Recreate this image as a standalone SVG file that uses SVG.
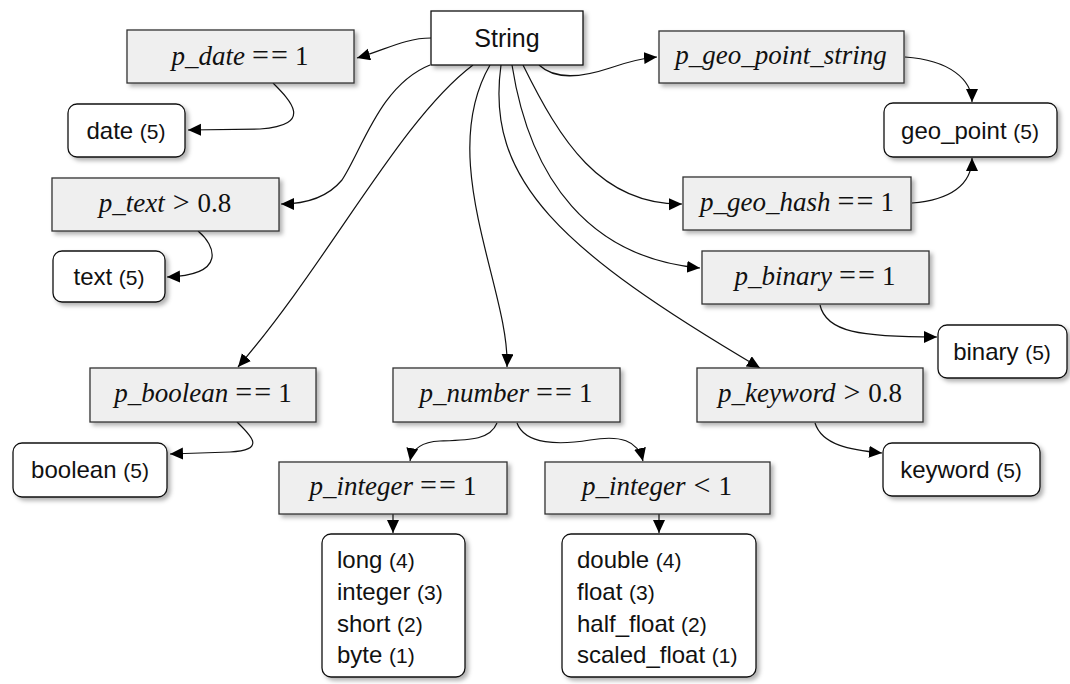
<svg xmlns="http://www.w3.org/2000/svg" width="1070" height="684" viewBox="0 0 1070 684">
<defs>
<filter id="sh" x="-10%" y="-20%" width="130%" height="150%">
<feDropShadow dx="3" dy="3" stdDeviation="2" flood-color="#000" flood-opacity="0.3"/>
</filter>
<marker id="ah" markerUnits="userSpaceOnUse" markerWidth="15" markerHeight="13" refX="13" refY="6" orient="auto">
<path d="M0,0 L13,6 L0,12 z" fill="#000"/>
</marker>
</defs>
<style>
.cond{fill:#efefef;stroke:#333;stroke-width:1.3;filter:url(#sh)}
.res{fill:#fff;stroke:#111;stroke-width:1.3;filter:url(#sh)}
.src{fill:#fff;stroke:#111;stroke-width:1.3;filter:url(#sh)}
.m{font-family:"Liberation Serif",serif;font-size:27px;fill:#111;text-anchor:middle}
.i{font-style:italic}
.q{font-size:30px}
.s{font-family:"Liberation Sans",Arial,sans-serif;font-size:24px;fill:#111}
.c{text-anchor:middle}
.n{font-size:21px}
.e{fill:none;stroke:#111;stroke-width:1.2;marker-end:url(#ah)}
</style>

<g id="connectors">
<path class="e" d="M431,38 C405,38 385,50 357,58"/>
<path class="e" d="M273,83 C290,100 315,125 260,129 L188,130"/>
<path class="e" d="M430,65 C380,85 362,150 342,180 C327,198 305,204 281,204"/>
<path class="e" d="M198,231 C215,245 228,275 167,277"/>
<path class="e" d="M473,65 C400,120 330,260 238,367"/>
<path class="e" d="M237,422 C250,435 268,450 230,452 L170,454"/>
<path class="e" d="M490,65 C435,160 510,290 507,367"/>
<path class="e" d="M501,65 C485,180 560,250 760,368"/>
<path class="e" d="M512,65 C530,180 590,258 700,268"/>
<path class="e" d="M523,65 C560,140 600,205 682,204"/>
<path class="e" d="M539,65 C555,80 580,78 610,68 C630,61 645,58 657,57"/>
<path class="e" d="M905,57 C950,60 972,80 972,102"/>
<path class="e" d="M912,203 C950,200 972,185 972,158"/>
<path class="e" d="M820,305 C826,332 860,337 937,337"/>
<path class="e" d="M815,423 C822,445 850,450 882,453"/>
<path class="e" d="M497,423 C490,440 470,440 440,441 C420,442 412,450 410,461"/>
<path class="e" d="M517,423 C525,445 560,445 590,440 C620,435 638,440 643,461"/>
<path class="e" d="M393,514 L393,533"/>
<path class="e" d="M659,514 L659,533"/>
</g>

<g id="string">
<rect class="src" x="431" y="11" width="152" height="54"/>
<text class="s c" x="507" y="47" style="font-size:25px">String</text>
</g>

<g id="p_date">
<rect class="cond" x="127" y="30" width="227" height="53"/>
<text class="m" x="240" y="65"><tspan class="i">p_date</tspan><tspan class="q" dx="7">=</tspan><tspan class="q" dx="2">=</tspan><tspan dx="7">1</tspan></text>
</g>
<g id="date">
<rect class="res" x="68" y="104" width="117" height="53" rx="9"/>
<text class="s c" x="126" y="139">date <tspan class="n">(5)</tspan></text>
</g>

<g id="p_text">
<rect class="cond" x="52" y="178" width="227" height="53"/>
<text class="m" x="165" y="212"><tspan class="i">p_text</tspan><tspan class="q" dx="8">&gt;</tspan><tspan dx="8">0.8</tspan></text>
</g>
<g id="text">
<rect class="res" x="53" y="251" width="112" height="51" rx="9"/>
<text class="s c" x="109" y="285">text <tspan class="n">(5)</tspan></text>
</g>

<g id="p_geo_point_string">
<rect class="cond" x="659" y="31" width="245" height="52"/>
<text class="m" x="781" y="64"><tspan class="i">p_geo_point_string</tspan></text>
</g>
<g id="geo_point">
<rect class="res" x="884" y="103" width="173" height="54" rx="9"/>
<text class="s c" x="970" y="139">geo_point <tspan class="n">(5)</tspan></text>
</g>

<g id="p_geo_hash">
<rect class="cond" x="683" y="177" width="228" height="53"/>
<text class="m" x="797" y="211"><tspan class="i">p_geo_hash</tspan><tspan class="q" dx="7">=</tspan><tspan class="q" dx="2">=</tspan><tspan dx="7">1</tspan></text>
</g>

<g id="p_binary">
<rect class="cond" x="702" y="251" width="227" height="53"/>
<text class="m" x="815" y="285"><tspan class="i">p_binary</tspan><tspan class="q" dx="7">=</tspan><tspan class="q" dx="2">=</tspan><tspan dx="7">1</tspan></text>
</g>
<g id="binary">
<rect class="res" x="938" y="325" width="129" height="53" rx="9"/>
<text class="s c" x="1002" y="360">binary <tspan class="n">(5)</tspan></text>
</g>

<g id="p_boolean">
<rect class="cond" x="90" y="368" width="226" height="54"/>
<text class="m" x="203" y="402"><tspan class="i">p_boolean</tspan><tspan class="q" dx="7">=</tspan><tspan class="q" dx="2">=</tspan><tspan dx="7">1</tspan></text>
</g>
<g id="boolean">
<rect class="res" x="13" y="443" width="154" height="54" rx="9"/>
<text class="s c" x="90" y="478">boolean <tspan class="n">(5)</tspan></text>
</g>

<g id="p_number">
<rect class="cond" x="393" y="368" width="227" height="54"/>
<text class="m" x="506" y="402"><tspan class="i">p_number</tspan><tspan class="q" dx="7">=</tspan><tspan class="q" dx="2">=</tspan><tspan dx="7">1</tspan></text>
</g>

<g id="p_keyword">
<rect class="cond" x="697" y="368" width="226" height="54"/>
<text class="m" x="810" y="402"><tspan class="i">p_keyword</tspan><tspan class="q" dx="8">&gt;</tspan><tspan dx="8">0.8</tspan></text>
</g>
<g id="keyword">
<rect class="res" x="883" y="443" width="157" height="53" rx="9"/>
<text class="s c" x="961" y="478">keyword <tspan class="n">(5)</tspan></text>
</g>

<g id="p_integer_eq">
<rect class="cond" x="279" y="462" width="228" height="52"/>
<text class="m" x="393" y="495"><tspan class="i">p_integer</tspan><tspan class="q" dx="7">=</tspan><tspan class="q" dx="2">=</tspan><tspan dx="7">1</tspan></text>
</g>
<g id="p_integer_lt">
<rect class="cond" x="545" y="462" width="225" height="52"/>
<text class="m" x="657" y="495"><tspan class="i">p_integer</tspan><tspan class="q" dx="8">&lt;</tspan><tspan dx="8">1</tspan></text>
</g>

<g id="integers">
<rect class="res" x="322" y="534" width="143" height="143" rx="9"/>
<text class="s" x="337" y="568">long <tspan class="n">(4)</tspan></text>
<text class="s" x="337" y="600">integer <tspan class="n">(3)</tspan></text>
<text class="s" x="337" y="632">short <tspan class="n">(2)</tspan></text>
<text class="s" x="337" y="663">byte <tspan class="n">(1)</tspan></text>
</g>
<g id="floats">
<rect class="res" x="562" y="534" width="194" height="143" rx="9"/>
<text class="s" x="577" y="568">double <tspan class="n">(4)</tspan></text>
<text class="s" x="577" y="600">float <tspan class="n">(3)</tspan></text>
<text class="s" x="577" y="632">half_float <tspan class="n">(2)</tspan></text>
<text class="s" x="577" y="663">scaled_float <tspan class="n">(1)</tspan></text>
</g>
</svg>
